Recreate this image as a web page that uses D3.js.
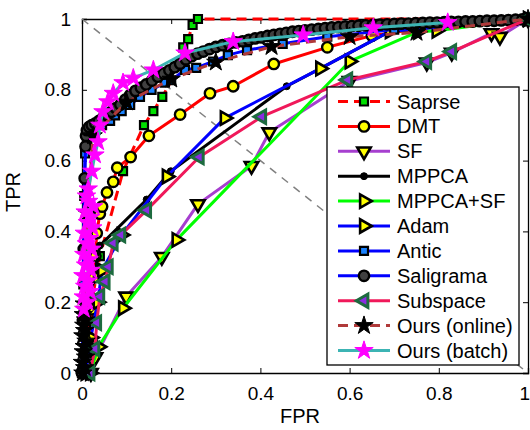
<!DOCTYPE html>
<html>
<head>
<meta charset="utf-8">
<script src="https://cdn.jsdelivr.net/npm/d3@7"></script>
<style>
  body { margin: 0; background: #fff; }
  text { font-family: Arial, "Liberation Sans", sans-serif; fill: #000; }
</style>
</head>
<body>
<div id="chart"></div>
<script>
// Tick values and labels
const xTicks = [0, 0.2, 0.4, 0.6, 0.8, 1];
const yTicks = [0, 0.2, 0.4, 0.6, 0.8, 1];
const xTickLabels = ["0", "0.2", "0.4", "0.6", "0.8", "1"];
const yTickLabels = ["0", "0.2", "0.4", "0.6", "0.8", "1"];
const seriesNames = ["Saprse", "DMT", "SF", "MPPCA", "MPPCA+SF", "Adam", "Antic",
                     "Saligrama", "Subspace", "Ours (online)", "Ours (batch)"];

// [FPR, TPR]
const saprse = [[0,0],[0.015,0.15],[0.04,0.33],[0.092,0.57],[0.139,0.70],[0.16,0.74],[0.18,0.78],
  [0.22,0.87],[0.227,0.92],[0.238,0.943],[0.248,0.983],[0.26,1.0],[1,1]];
const dmt = [[0,0],[0.012,0.08],[0.022,0.18],[0.027,0.27],[0.03,0.33],[0.033,0.395],[0.04,0.45],
  [0.045,0.47],[0.056,0.51],[0.07,0.54],[0.079,0.58],[0.109,0.61],[0.15,0.67],[0.22,0.73],
  [0.287,0.79],[0.339,0.81],[0.43,0.873],[0.55,0.92],[0.65,0.953],[0.8,0.98],[1,1]];
const sf = [[0.02,0],[0.03,0.045],[0.099,0.216],[0.179,0.328],[0.26,0.477],[0.38,0.585],[0.42,0.68],
  [0.6,0.825],[0.773,0.877],[0.829,0.905],[0.918,0.96],[0.937,0.95],[1,1]];
const mppca = [[0,0],[0.008,0.1],[0.02,0.22],[0.04,0.36],[0.145,0.49],[0.199,0.57],[0.459,0.81],
  [0.534,0.86],[0.69,0.965],[1,1]];
const mppcaSf = [[0.018,0],[0.037,0.074],[0.092,0.183],[0.212,0.376],[0.6,0.88],[0.754,0.964],
  [0.795,0.967],[1,1]];
const adam = [[0.008,0],[0.02,0.1],[0.035,0.2],[0.045,0.29],[0.089,0.39],[0.19,0.555],[0.32,0.72],
  [0.534,0.86],[0.69,0.965],[1,1]];
const antic = [[0,0],[0.003,0.25],[0.005,0.5],[0.007,0.62],[0.012,0.66],[0.025,0.685],[0.045,0.70],
  [0.063,0.712],[0.074,0.728],[0.089,0.74],[0.108,0.757],[0.13,0.78],[0.156,0.80],[0.186,0.82],
  [0.2,0.827],[0.231,0.856],[0.256,0.862],[0.294,0.88],[0.327,0.898],[0.37,0.912],[0.45,0.93],
  [0.55,0.95],[0.7,0.97],[1,1]];
const saligrama = [[0,0],[0.002,0.15],[0.004,0.35],[0.006,0.55],[0.008,0.64],[0.009,0.67],
  [0.011,0.686],[0.016,0.695],[0.022,0.70],[0.03,0.705],[0.038,0.712],[0.047,0.72],[0.056,0.728],
  [0.066,0.738],[0.076,0.748],[0.086,0.758],[0.097,0.772],[0.108,0.785],[0.12,0.797],[0.132,0.806],
  [0.144,0.815],[0.157,0.826],[0.17,0.837],[0.183,0.846],[0.196,0.855],[0.208,0.864],[0.22,0.874],
  [0.233,0.886],[0.246,0.895],[0.259,0.902],[0.272,0.908],[0.286,0.915],[0.3,0.921],[0.315,0.926],
  [0.33,0.93],[0.345,0.934],[0.36,0.937],[0.374,0.941],[0.388,0.945],[0.402,0.948],[0.416,0.952],
  [0.43,0.955],[0.444,0.958],[0.458,0.961],[0.472,0.964],[0.486,0.966],[0.5,0.968],[0.515,0.97],
  [0.53,0.972],[0.545,0.974],[0.56,0.976],[0.575,0.977],[0.59,0.979],[0.605,0.98],[0.62,0.981],
  [0.636,0.982],[0.652,0.983],[0.668,0.984],[0.684,0.985],[0.7,0.986],[0.716,0.987],[0.732,0.987],
  [0.748,0.988],[0.764,0.989],[0.78,0.99],[0.796,0.99],[0.812,0.991],[0.828,0.992],[0.844,0.992],
  [0.86,0.993],[0.876,0.993],[0.892,0.994],[0.908,0.995],[0.924,0.995],[0.94,0.996],[0.956,0.997],
  [0.972,0.998],[0.988,0.999],[1,1]];
const subspace = [[0.018,0],[0.029,0.068],[0.033,0.142],[0.04,0.216],[0.052,0.258],[0.059,0.30],
  [0.07,0.367],[0.087,0.39],[0.145,0.46],[0.263,0.61],[0.403,0.724],[0.596,0.828],[0.773,0.88],
  [0.829,0.908],[1,1]];
const oursOnline = [[0.002,0],[0.006,0.015],[0.001,0.03],[0.008,0.045],[0.003,0.06],[0.005,0.075],
  [0.009,0.09],[0.002,0.105],[0.006,0.12],[0.004,0.135],[0.008,0.15],[0.003,0.165],[0.007,0.18],
  [0.005,0.195],[0.012,0.45],[0.025,0.67],[0.1,0.765],[0.2,0.83],[0.3,0.878],[0.425,0.922],
  [0.6,0.95],[0.75,0.962],[1,1]];
const oursBatch = [[0.004,0.18],[0.012,0.2],[0.003,0.215],[0.018,0.23],[0.006,0.245],[0.014,0.26],
  [0.002,0.275],[0.02,0.29],[0.008,0.305],[0.016,0.32],[0.004,0.335],[0.022,0.35],[0.01,0.365],
  [0.017,0.38],[0.005,0.395],[0.024,0.41],[0.012,0.425],[0.02,0.44],[0.007,0.455],[0.026,0.47],
  [0.015,0.485],[0.01,0.5],[0.014,0.52],[0.022,0.57],[0.029,0.616],[0.036,0.653],[0.04,0.70],
  [0.047,0.738],[0.058,0.766],[0.07,0.79],[0.092,0.82],[0.115,0.833],[0.16,0.856],[0.231,0.904],
  [0.339,0.936],[0.496,0.955],[0.653,0.975],[0.82,0.99]];

const seriesData = [saprse, dmt, sf, mppca, mppcaSf, adam, antic, saligrama, subspace, oursOnline, oursBatch];

// Styles (MATLAB-like)
const styles = [
  { line: "#ff0000", dash: "10,6", sym: "square", size: 64, fill: "#00e000", edge: "#000", ew: 2.2 },
  { line: "#ff0000", dash: null, sym: "circle", size: 85, fill: "#ffff00", edge: "#000", ew: 2.4 },
  { line: "#a63fcf", dash: null, sym: "down", size: 78, fill: "#ffff00", edge: "#000", ew: 2.6 },
  { line: "#000000", dash: null, sym: "circle", size: 38, fill: "#000", edge: "#000", ew: 1 },
  { line: "#00ff00", dash: null, sym: "right", size: 78, fill: "#ffff00", edge: "#000", ew: 2.6 },
  { line: "#0000ff", dash: null, sym: "right", size: 78, fill: "#ffff00", edge: "#000", ew: 2.6 },
  { line: "#0000ff", dash: null, sym: "square", size: 64, fill: "#1a82ff", edge: "#000", ew: 2.2 },
  { line: "#0000ff", dash: null, sym: "circle", size: 85, fill: "#404040", edge: "#000", ew: 2.4 },
  { line: "#f0185a", dash: null, sym: "left", size: 78, fill: "#8a2be2", edge: "#1d6b3f", ew: 3 },
  { line: "#b03a3a", dash: "10,6", sym: "star", size: 105, fill: "#000", edge: "#000", ew: 1 },
  { line: "#3cb4b4", dash: null, sym: "star", size: 105, fill: "#ff00ff", edge: "#ff00ff", ew: 1 }
];

const W = 530, H = 430;
const margin = { top: 19, right: 2, bottom: 57, left: 82 };
const width = W - margin.left - margin.right;
const height = H - margin.top - margin.bottom;

const svg = d3.select("#chart").append("svg")
  .attr("width", W)
  .attr("height", H);

const g = svg.append("g")
  .attr("transform", `translate(${margin.left},${margin.top})`);

const x = d3.scaleLinear().domain([0, 1]).range([0, width]);
const y = d3.scaleLinear().domain([0, 1]).range([height, 0]);

// Axes (ticks point inward, box on all four sides)
const xAxisG = g.append("g")
  .attr("transform", `translate(0,${height})`)
  .call(d3.axisBottom(x).tickValues(xTicks).tickSize(-5).tickPadding(14)
    .tickFormat((d, i) => xTickLabels[i]));
g.append("g")
  .call(d3.axisLeft(y).tickValues(yTicks).tickSize(-5).tickPadding(11)
    .tickFormat((d, i) => yTickLabels[i]));
g.append("g")
  .call(d3.axisTop(x).tickValues(xTicks).tickSize(-5).tickFormat(""));
g.append("g")
  .attr("transform", `translate(${width},0)`)
  .call(d3.axisRight(y).tickValues(yTicks).tickSize(-5).tickFormat(""));

g.selectAll(".domain").attr("stroke", "#000").attr("stroke-width", 1.3);
g.selectAll(".tick line").attr("stroke", "#000").attr("stroke-width", 1);
g.selectAll(".tick text").style("font-size", "19px")
  .style("font-family", "Arial, 'Liberation Sans', sans-serif").attr("fill", "#000");

// last x label sits at the window edge: nudge it inward
xAxisG.selectAll(".tick").filter(d => d === 1).select("text").attr("dx", "-0.2em");

// Axis labels
g.append("text")
  .attr("x", width / 2 - 5)
  .attr("y", height + 50)
  .attr("text-anchor", "middle")
  .style("font-size", "20px")
  .text("FPR");
g.append("text")
  .attr("transform", "rotate(-90)")
  .attr("x", -height / 2 + 4)
  .attr("y", -62)
  .attr("text-anchor", "middle")
  .style("font-size", "20px")
  .text("TPR");

// Chance diagonal
g.append("line")
  .attr("x1", x(0)).attr("y1", y(1))
  .attr("x2", x(1)).attr("y2", y(0))
  .attr("stroke", "#808080")
  .attr("stroke-width", 1.5)
  .attr("stroke-dasharray", "8,7");

function symbolPath(s) {
  const type = { square: d3.symbolSquare, circle: d3.symbolCircle, star: d3.symbolStar }[s.sym] || d3.symbolTriangle;
  return d3.symbol().type(type).size(s.size)();
}
function symbolRotate(s) {
  return { down: 180, right: 90, left: -90 }[s.sym] || 0;
}

const line = d3.line().x(d => x(d[0])).y(d => y(d[1]));

// Curves, drawn in legend order
seriesData.forEach((data, i) => {
  const s = styles[i];
  const sg = g.append("g");
  sg.append("path")
    .datum(data)
    .attr("d", line)
    .attr("fill", "none")
    .attr("stroke", s.line)
    .attr("stroke-width", 3)
    .attr("stroke-dasharray", s.dash)
    .attr("stroke-linejoin", "round");
  sg.selectAll("path.m")
    .data(data)
    .join("path")
    .attr("class", "m")
    .attr("d", symbolPath(s))
    .attr("transform", d => `translate(${x(d[0])},${y(d[1])}) rotate(${symbolRotate(s)})`)
    .attr("fill", s.fill)
    .attr("stroke", s.edge)
    .attr("stroke-width", s.ew)
    .attr("stroke-linejoin", "miter");
});

// Legend
const legX = 327 - margin.left, legY = 87 - margin.top;
const legend = g.append("g").attr("transform", `translate(${legX},${legY})`);
legend.append("rect")
  .attr("width", 192).attr("height", 278)
  .attr("fill", "#fff").attr("stroke", "#000").attr("stroke-width", 1.3);

seriesNames.forEach((name, i) => {
  const s = styles[i];
  const cy = 14.5 + i * 24.9;
  const row = legend.append("g").attr("transform", `translate(0,${cy})`);
  row.append("line")
    .attr("x1", 11).attr("x2", 63)
    .attr("stroke", s.line).attr("stroke-width", 3)
    .attr("stroke-dasharray", s.dash);
  row.append("path")
    .attr("d", symbolPath(s))
    .attr("transform", `translate(37,0) rotate(${symbolRotate(s)})`)
    .attr("fill", s.fill)
    .attr("stroke", s.edge)
    .attr("stroke-width", s.ew);
  row.append("text")
    .attr("x", 70).attr("y", 7)
    .style("font-size", "20px")
    .text(name);
});
</script>
</body>
</html>
